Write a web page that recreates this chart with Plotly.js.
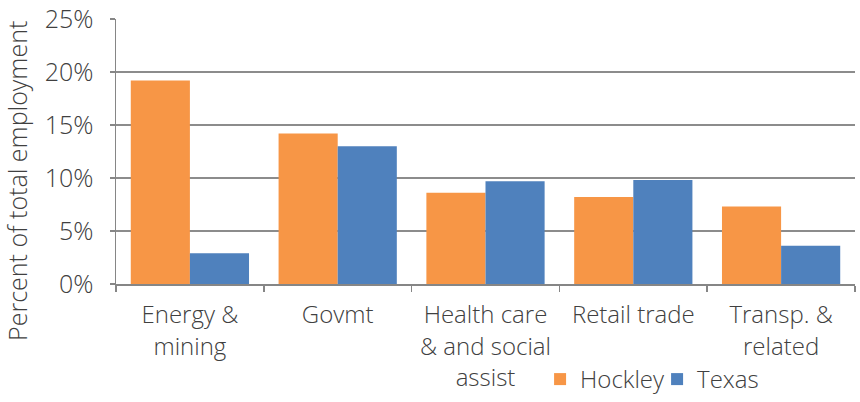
<!DOCTYPE html>
<html>
<head>
<meta charset="utf-8">
<script src="https://cdn.plot.ly/plotly-3.0.1.min.js"></script>
<style>html,body{margin:0;padding:0;background:#fff;}#chart{width:860px;height:402px;}</style>
</head>
<body>
<div id="chart"></div>
<script>
const categories = ["Energy &<br>mining", "Govmt", "Health care<br>& and social<br>assist", "Retail trade", "Transp. &<br>related"];
const hockley = [19.2, 14.2, 8.6, 8.2, 7.3];
const texas = [2.9, 13.0, 9.7, 9.8, 3.6];
const yTickVals = [0, 5, 10, 15, 20, 25];
const yTickText = ["0%", "5%", "10%", "15%", "20%", "25%"];
const yTitle = "Percent of total employment";

const fontFam = "'Open Sans', 'Noto Sans', sans-serif";
const textColor = "#404040";
const fs = 24;

const data = [
  {type: "bar", name: "Hockley", x: categories, y: hockley, marker: {color: "#F79646"}},
  {type: "bar", name: "Texas", x: categories, y: texas, marker: {color: "#4F81BD"}}
];

const layout = {
  width: 860, height: 402,
  margin: {l: 116, r: 5, t: 19, b: 118, autoexpand: false},
  paper_bgcolor: "#fff", plot_bgcolor: "#fff",
  font: {family: fontFam, size: fs, color: textColor, weight: 300},
  barmode: "group",
  bargap: 0.2, bargroupgap: 0,
  showlegend: true,
  legend: {orientation: "h", xref: "container", yref: "container", x: 0.628, y: -0.012, xanchor: "left", yanchor: "bottom",
           font: {family: fontFam, size: fs, color: textColor, weight: 300},
           itemwidth: 30, entrywidth: 72, entrywidthmode: "pixels",
           traceorder: "normal", bgcolor: "rgba(0,0,0,0)"},
  xaxis: {
    type: "category",
    showgrid: false, showline: true, linecolor: "#868686", linewidth: 1.5,
    ticks: "outside", tickson: "boundaries", ticklen: 6, tickcolor: "#868686", tickwidth: 1.5,
    ticklabelstandoff: 9,
    tickfont: {family: fontFam, size: fs, color: textColor, weight: 300},
    zeroline: false, fixedrange: true
  },
  yaxis: {
    range: [0, 25],
    tickvals: yTickVals, ticktext: yTickText,
    showgrid: true, gridcolor: "#8c8c8c", gridwidth: 1.5,
    showline: true, linecolor: "#868686", linewidth: 1.5,
    ticks: "outside", ticklen: 5, tickcolor: "#868686", tickwidth: 1.5,
    ticklabelstandoff: 11,
    tickfont: {family: fontFam, size: 25, color: textColor, weight: 300},
    zeroline: false,
    fixedrange: true
  },
  annotations: [{
    text: yTitle, textangle: -90, showarrow: false,
    xref: "paper", yref: "paper", x: -0.134, y: 0.389, xanchor: "center", yanchor: "middle",
    font: {family: fontFam, size: 25, color: textColor, weight: 300}
  }]
};

Plotly.newPlot("chart", data, layout, {displayModeBar: false, staticPlot: true});
</script>
</body>
</html>
